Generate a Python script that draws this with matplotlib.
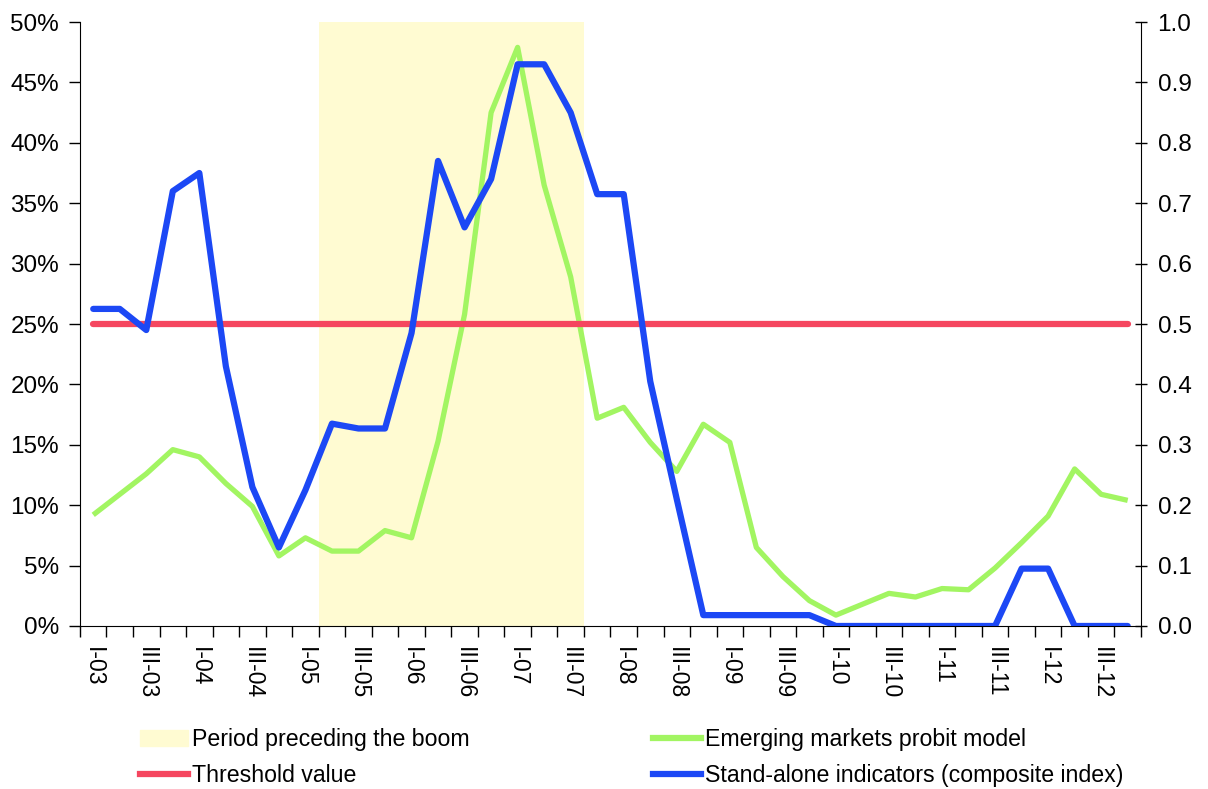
import numpy as np
import matplotlib
matplotlib.use('Agg')
import matplotlib.pyplot as plt
from matplotlib.patches import Patch
from matplotlib.lines import Line2D

plt.rcParams['font.family'] = ['Liberation Sans', 'DejaVu Sans']

# quarters I-03 .. IV-12
roman = ['I', 'II', 'III', 'IV']
quarters = [f'{roman[q]}-{y:02d}' for y in range(3, 13) for q in range(4)]

# emerging markets probit model (left axis, %)
probit = [9.2, 10.9, 12.6, 14.6, 14.0, 11.8, 9.9, 5.8, 7.3, 6.2,
          6.2, 7.9, 7.3, 15.3, 25.8, 42.5, 47.9, 36.5, 28.9, 17.2,
          18.1, 15.2, 12.8, 16.7, 15.2, 6.5, 4.1, 2.1, 0.9, 1.8,
          2.7, 2.4, 3.1, 3.0, 4.8, 6.9, 9.1, 13.0, 10.9, 10.4]

# stand-alone indicators composite index (right axis)
composite = [0.525, 0.525, 0.49, 0.72, 0.75, 0.43, 0.23, 0.13, 0.225, 0.335,
             0.327, 0.327, 0.485, 0.77, 0.66, 0.74, 0.93, 0.93, 0.85, 0.715,
             0.715, 0.405, 0.21, 0.018, 0.018, 0.018, 0.018, 0.018, 0.0, 0.0,
             0.0, 0.0, 0.0, 0.0, 0.0, 0.095, 0.095, 0.0, 0.0, 0.0]

threshold = [0.5] * 40

# period preceding the boom: II-05 .. III-07
boom = [1 if 9 <= i <= 18 else 0 for i in range(40)]

x = np.arange(len(quarters))

fig = plt.figure(figsize=(12.08, 7.89), dpi=100)
ax = fig.add_axes([0.0662, 0.2066, 0.8783, 0.7655])
ax2 = ax.twinx()

ax.bar(x, [50 * b for b in boom], width=1.0, color='#fffbd2', zorder=0)
ax.plot(x, probit, color='#a2f562', lw=3.8, solid_capstyle='butt', zorder=3)
ax2.plot(x, threshold, color='#f5465f', lw=4.5, solid_capstyle='round')
ax2.plot(x, composite, color='#1c48f5', lw=4.5, solid_capstyle='round')

ax.set_xlim(-0.5, len(x) - 0.5)
ax.set_ylim(0, 50)
ax2.set_ylim(0, 1.0)

ax.set_yticks(np.arange(0, 51, 5))
ax.set_yticklabels([f'{v}%' for v in range(0, 51, 5)])
ax2.set_yticks(np.arange(0, 1.01, 0.1))
ax2.set_yticklabels([f'{v:.1f}' for v in np.arange(0, 1.01, 0.1)])

ax.set_xticks(np.arange(-0.5, len(x), 1.0))
ax.set_xticklabels([])
ax.set_xticks(x[::2], minor=True)
ax.set_xticklabels(quarters[::2], minor=True, rotation=-90)
ax.tick_params(axis='x', which='major', length=8, width=1, direction='out')
ax.tick_params(axis='x', which='minor', length=0, pad=15, labelsize=16.5)
ax.tick_params(axis='y', length=8, width=1, direction='out', labelsize=17.5, pad=7)
ax2.tick_params(axis='y', length=8, width=1, direction='inout', labelsize=17.5, pad=8)

for a in (ax, ax2):
    a.spines['top'].set_visible(False)
ax.spines['right'].set_visible(False)
ax2.spines['left'].set_visible(False)
ax2.spines['bottom'].set_visible(False)

handles = [Patch(color='#fffbd2'),
           Line2D([], [], color='#f5465f', lw=4.5),
           Line2D([], [], color='#a2f562', lw=4.5),
           Line2D([], [], color='#1c48f5', lw=4.5)]
labels = ['Period preceding the boom', 'Threshold value',
          'Emerging markets probit model', 'Stand-alone indicators (composite index)']
fig.legend(handles, labels, ncol=2, loc='center left', bbox_to_anchor=(0.1159, 0.04),
           frameon=False, fontsize=16.7, handlelength=2.07, handletextpad=0.17,
           columnspacing=7.9, labelspacing=0.55, borderpad=0, borderaxespad=0)

fig.savefig('out.png', dpi=100)
